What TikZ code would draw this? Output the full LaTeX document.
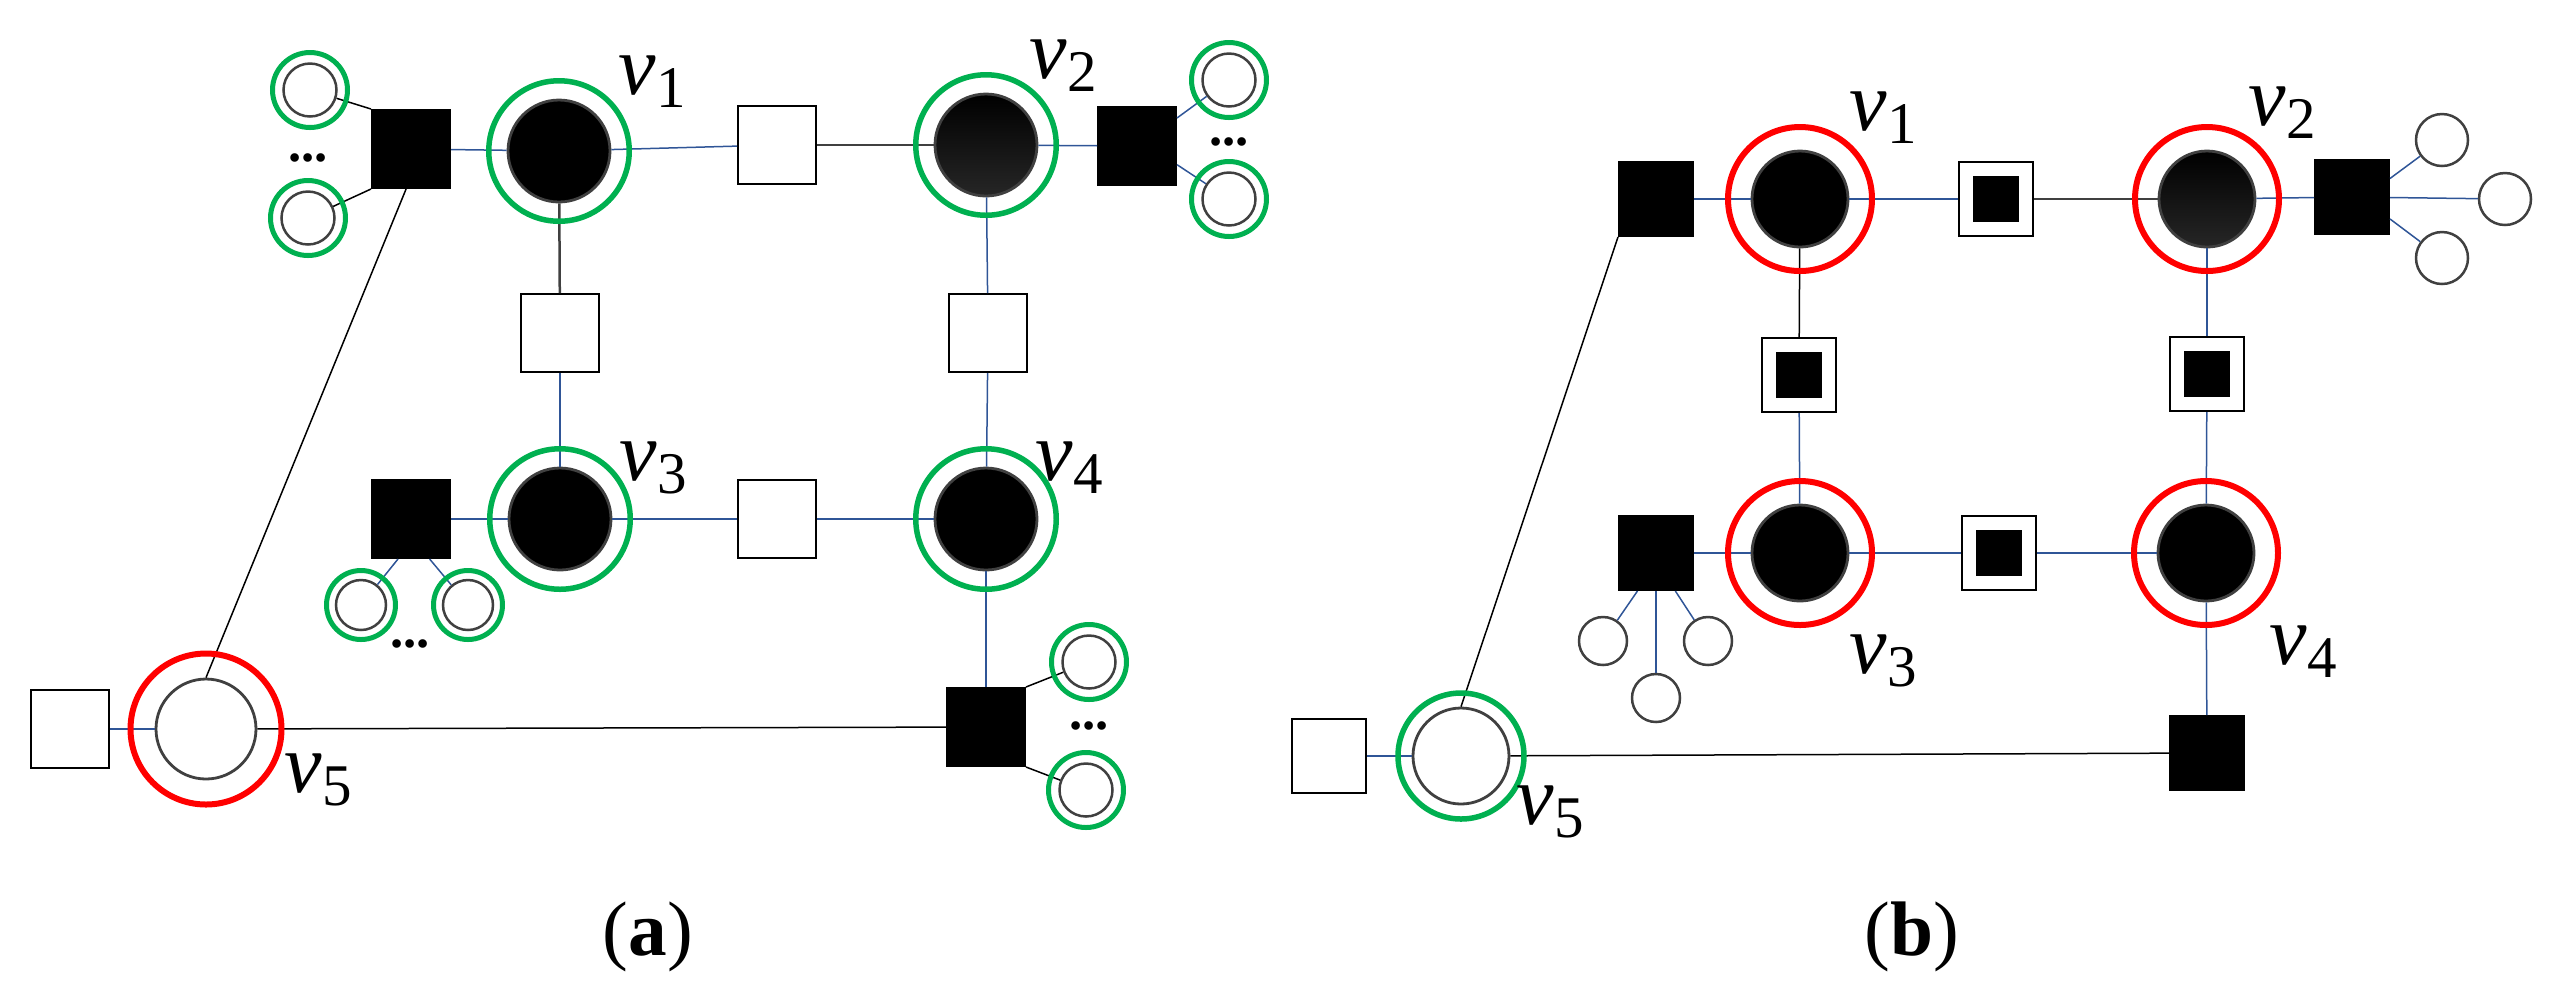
\documentclass[tikz,border=0pt]{standalone}
\usepackage{fontspec}
\setmainfont{Liberation Serif}

\definecolor{ringgreen}{RGB}{0,176,80}
\definecolor{ringred}{RGB}{255,0,0}
\definecolor{edgeblue}{RGB}{47,85,151}
\definecolor{edgegray}{RGB}{64,64,64}

\tikzset{every picture/.style={line width=0.15mm},
  var/.style={circle,draw=edgegray,line width=0.28mm,fill=black,inner sep=0pt,minimum size=10.2mm},
  leaf/.style={circle,draw=edgegray,line width=0.25mm,fill=white,inner sep=0pt,minimum size=5.3mm},
  ring/.style={circle,line width=0.55mm,inner sep=0pt,minimum size=14.05mm},
  whitebox/.style={rectangle,draw,line width=0.2mm,fill=white,inner sep=0pt,minimum size=7.8mm},
  blackbox/.style={whitebox,fill=black},
  nest/.style={whitebox,minimum size=7.4mm},
  core/.style={rectangle,fill=black,inner sep=0pt,minimum size=4.6mm},
  bedge/.style={draw=edgeblue},
  kedge/.style={draw=black},
  gedge/.style={draw=edgegray,line width=0.25mm},
  lbl/.style={font=\fontsize{24}{24}\selectfont\itshape,inner sep=0pt},
  ellip/.style={font=\fontsize{15}{15}\selectfont\bfseries,inner sep=0pt},
  capt/.style={font=\fontsize{22}{22}\selectfont,inner sep=0pt}}

\begin{document}
\begin{tikzpicture}[x=0.1mm,y=-0.1mm]
\useasboundingbox (0,0) rectangle (2551,988);

% (a)
\node[blackbox] (a1) at (411,149) {};
\node[leaf] (l11) at (310,90) {};
\node[leaf] (l12) at (308,218) {};
\node[ellip] (d1) at (308,158) {...};
\node[var] (v1) at (559,151) {};
\node[whitebox] (w12) at (777,145) {};
\node[var,top color=black,bottom color=black!85] (v2) at (986,145) {};
\node[blackbox] (a2) at (1137,146) {};
\node[leaf] (l21) at (1229,80) {};
\node[leaf] (l22) at (1229,199) {};
\node[ellip] (d2) at (1229,142) {...};
\node[whitebox] (w13) at (560,333) {};
\node[whitebox] (w24) at (988,333) {};
\node[blackbox] (a3) at (411,519) {};
\node[leaf,minimum size=5mm] (l31) at (361,605) {};
\node[leaf,minimum size=5mm] (l32) at (468,605) {};
\node[ellip] (d3) at (410,644) {...};
\node[var] (v3) at (560,519) {};
\node[whitebox] (w34) at (777,519) {};
\node[var] (v4) at (986,519) {};
\node[blackbox] (a4) at (986,727) {};
\node[leaf] (l41) at (1089,662) {};
\node[leaf] (l42) at (1086,790) {};
\node[ellip] (d4) at (1089,726) {...};
\node[var,fill=white,minimum size=10mm] (v5) at (206,729) {};
\node[whitebox] (w5) at (70,729) {};

\draw[bedge] (a1) -- (v1);
\draw[kedge] (a1.north west) -- (l11);
\draw[kedge] (a1.south west) -- (l12);
\draw[kedge] (a1.-97) -- (v5.north);
\draw[bedge] (v1) -- (w12);
\draw[gedge] (w12) -- (v2);
\draw[bedge] (v2) -- (a2);
\draw[bedge] (a2.35) -- (l21);
\draw[bedge] (a2.-25) -- (l22);
\draw[gedge] (v1) -- (w13);
\draw[bedge] (w13) -- (v3);
\draw[bedge] (v2) -- (w24);
\draw[bedge] (w24) -- (v4);
\draw[bedge] (a3) -- (v3);
\draw[bedge] (a3.-108) -- (l31);
\draw[bedge] (a3.-65) -- (l32);
\draw[bedge] (v3) -- (w34);
\draw[bedge] (w34) -- (v4);
\draw[bedge] (v4) -- (a4);
\draw[kedge] (a4.north east) -- (l41);
\draw[kedge] (a4.south east) -- (l42);
\draw[kedge] (v5) -- (a4);
\draw[bedge] (w5) -- (v5);

\foreach \v in {v1,v2,v3,v4}
  \node[ring,draw=ringgreen] (\v-o) at (\v) {};
\foreach \l in {l11,l12,l21,l22,l41,l42}
  \node[ring,draw=ringgreen,line width=0.5mm,minimum size=7.5mm] (\l-o) at (\l) {};
\foreach \l in {l31,l32}
  \node[ring,draw=ringgreen,line width=0.5mm,minimum size=6.9mm] (\l-o) at (\l) {};
\node[ring,draw=ringred,line width=0.6mm,minimum size=15.1mm] (v5-o) at (v5) {};

\node[lbl] (t1) at (653,82) {v\textsubscript{\upshape 1}};
\node[lbl] (t2) at (1064,66) {v\textsubscript{\upshape 2}};
\node[lbl] (t3) at (654,468) {v\textsubscript{\upshape 3}};
\node[lbl] (t4) at (1070,468) {v\textsubscript{\upshape 4}};
\node[lbl] (t5) at (319,780) {v\textsubscript{\upshape 5}};
\node[capt] (ca) at (648,937) {(\textbf{a})};

% (b)
\node[blackbox,minimum size=7.4mm] (b1) at (1656,199) {};
\node[var,minimum size=9.6mm] (v1b) at (1800,199) {};
\node[nest] (n12) at (1996,199) {};
\node[core] (n12c) at (n12) {};
\node[var,minimum size=9.6mm,top color=black,bottom color=black!85] (v2b) at (2207,199) {};
\node[blackbox,minimum size=7.4mm] (b2) at (2352,197) {};
\node[leaf,minimum size=5.2mm] (l51) at (2442,140) {};
\node[leaf,minimum size=5.2mm] (l52) at (2505,199) {};
\node[leaf,minimum size=5.2mm] (l53) at (2442,258) {};
\node[nest] (n13) at (1799,375) {};
\node[core] (n13c) at (n13) {};
\node[nest] (n24) at (2207,374) {};
\node[core] (n24c) at (n24) {};
\node[blackbox,minimum size=7.4mm] (b3) at (1656,553) {};
\node[leaf,minimum size=4.8mm] (l61) at (1603,641) {};
\node[leaf,minimum size=4.8mm] (l62) at (1708,641) {};
\node[leaf,minimum size=4.8mm] (l63) at (1656,698) {};
\node[var,minimum size=9.6mm] (v3b) at (1800,553) {};
\node[nest] (n34) at (1999,553) {};
\node[core] (n34c) at (n34) {};
\node[var,minimum size=9.6mm] (v4b) at (2206,553) {};
\node[blackbox,minimum size=7.4mm] (b4) at (2207,753) {};
\node[var,fill=white,minimum size=9.6mm] (v5b) at (1461,756) {};
\node[whitebox,minimum size=7.4mm] (w5b) at (1329,756) {};

\draw[bedge] (b1) -- (v1b);
\draw[kedge] (b1.south west) -- (v5b.north);
\draw[bedge] (v1b) -- (n12);
\draw[gedge] (n12) -- (v2b);
\draw[bedge] (v2b) -- (b2);
\draw[bedge] (b2.26) -- (l51);
\draw[bedge] (b2) -- (l52);
\draw[bedge] (b2.-30) -- (l53);
\draw[kedge] (v1b) -- (n13);
\draw[bedge] (n13) -- (v3b);
\draw[bedge] (v2b) -- (n24);
\draw[bedge] (n24) -- (v4b);
\draw[bedge] (b3) -- (v3b);
\draw[bedge] (b3.-116) -- (l61);
\draw[bedge] (b3.-63) -- (l62);
\draw[bedge] (b3) -- (l63);
\draw[bedge] (v3b) -- (n34);
\draw[bedge] (n34) -- (v4b);
\draw[bedge] (v4b) -- (b4);
\draw[kedge] (v5b) -- (b4);
\draw[bedge] (w5b) -- (v5b);

\foreach \v in {v1b,v2b,v3b,v4b}
  \node[ring,draw=ringred,line width=0.6mm,minimum size=14.4mm] (\v-o) at (\v) {};
\node[ring,draw=ringgreen,minimum size=12.6mm] (v5b-o) at (v5b) {};

\node[lbl] (s1) at (1884,118) {v\textsubscript{\upshape 1}};
\node[lbl] (s2) at (2283,113) {v\textsubscript{\upshape 2}};
\node[lbl] (s3) at (1884,661) {v\textsubscript{\upshape 3}};
\node[lbl] (s4) at (2304,652) {v\textsubscript{\upshape 4}};
\node[lbl] (s5) at (1551,812) {v\textsubscript{\upshape 5}};
\node[capt] (cb) at (1912,937) {(\textbf{b})};
\end{tikzpicture}
\end{document}
